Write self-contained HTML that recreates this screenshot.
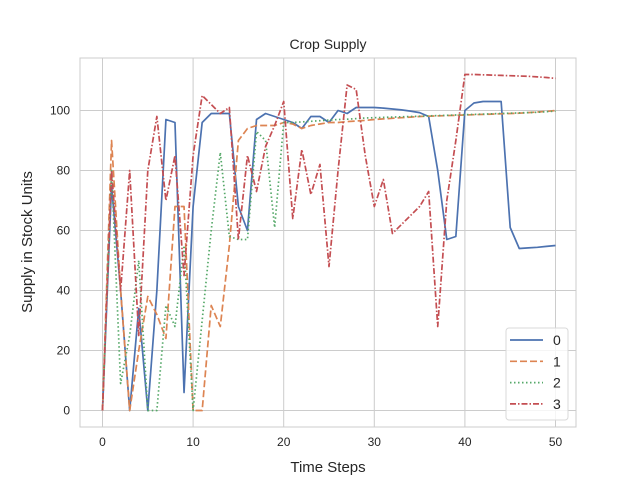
<!DOCTYPE html>
<html><head><meta charset="utf-8"><style>
body{margin:0;background:#fff}
svg{display:block;font-family:"Liberation Sans","DejaVu Sans",sans-serif}
</style></head><body>
<svg id="chart" width="640" height="480">
<rect width="640" height="480" fill="#fff"/>
<g id="grid"></g>
<rect x="80" y="58" width="496" height="369" fill="none" stroke="#cccccc" stroke-width="1"/>
<g id="ticks"></g>
<g id="series"></g>
<text x="328" y="49" text-anchor="middle" font-size="14" fill="#262626">Crop Supply</text>
<text x="328" y="472" text-anchor="middle" font-size="15" fill="#262626">Time Steps</text>
<text transform="translate(32,242) rotate(-90)" text-anchor="middle" font-size="15" fill="#262626">Supply in Stock Units</text>
<g id="legend">
<rect x="506" y="328" width="62" height="92" rx="3" fill="#fff" fill-opacity="0.8" stroke="#d9d9d9"/>
</g>
</svg>
<script>
const xTicks=[0,10,20,30,40,50];
const yTicks=[0,20,40,60,80,100];
const seriesNames=["0","1","2","3"];
const s0=[0,75,40,0,34,0,40,97,96,6,68,96,99,99,99,68,60,97,99,98,97,96,94,98,98,96,100,99,101,101,101,100.8,100.5,100.2,99.8,99.3,98,80,57,58,100,102.5,103,103,103,61,54,54.2,54.4,54.7,55];
const s1=[0,90,40,0,20,38,32,24,68,68,0,0,35,28,55,90,94,95,95,95,96,95.5,94,95,95.5,96,96,96.3,96.5,96.7,97,97.2,97.4,97.6,97.8,98,98.1,98.2,98.3,98.4,98.5,98.6,98.7,98.8,98.9,99,99.1,99.3,99.5,99.7,100];
const s2=[0,80,9,25,50,0,0,35,28,55,0,30,60,86,58,57,57,93,90,61,96,96,96.2,96.4,96.6,96.8,97,97.1,97.3,97.5,97.6,97.7,97.8,97.9,98,98.1,98.2,98.3,98.4,98.5,98.6,98.7,98.8,98.9,99,99.1,99.2,99.3,99.4,99.6,99.8];
const s3=[0,80,40,80,25,80,98,70,85,45,85,105,102,99,101,57,85,73,88,95,103,64,87,72,82,48,80,108.5,107,85,68,77,59,62,65,68,73,28,70,90,112,112,111.9,111.8,111.7,111.6,111.5,111.4,111.2,111,110.7];
const seriesData=[s0,s1,s2,s3];
const colors=["#4c72b0","#dd8452","#55a868","#c44e52"];
const dashes=["","7,3","1.5,2.5","6,2,1.5,2"];
const NS="http://www.w3.org/2000/svg";
const xs=v=>102.5+v*9.06;
const ys=v=>410.5-v*3.0;
function mk(tag,attrs,parent){const e=document.createElementNS(NS,tag);for(const k in attrs)e.setAttribute(k,attrs[k]);parent.appendChild(e);return e;}
const grid=document.getElementById('grid'),ticks=document.getElementById('ticks'),ser=document.getElementById('series'),leg=document.getElementById('legend');
xTicks.forEach(t=>{
 const l=mk('line',{x1:xs(t),x2:xs(t),y1:58,y2:427,stroke:'#cccccc','stroke-width':1},grid);
 
 
 const tx=mk('text',{x:xs(t),y:446,'text-anchor':'middle','font-size':12,fill:'#262626'},ticks);
 tx.textContent=t;
 
 
});
yTicks.forEach(t=>{
 const l=mk('line',{x1:80,x2:576,y1:ys(t),y2:ys(t),stroke:'#cccccc','stroke-width':1},grid);
 
 
 const tx=mk('text',{x:70,y:ys(t)+4,'text-anchor':'end','font-size':12,fill:'#262626'},ticks);
 tx.textContent=t;
 
 
});
seriesData.forEach((d,i)=>{
 const p=mk('polyline',{points:d.map((v,j)=>xs(j)+','+ys(v)).join(' '),fill:'none',stroke:colors[i],'stroke-width':1.7,'stroke-dasharray':dashes[i],'stroke-linejoin':'round'},ser);
 
 
 const y=340+i*21.3;
 const ll=mk('line',{x1:510,x2:543,y1:y,y2:y,stroke:colors[i],'stroke-width':1.7,'stroke-dasharray':dashes[i]},leg);
 
 
 const lt=mk('text',{x:553,y:y+5,'font-size':14,fill:'#262626'},leg);
 lt.textContent=seriesNames[i];
 
 
});
</script>
</body></html>
